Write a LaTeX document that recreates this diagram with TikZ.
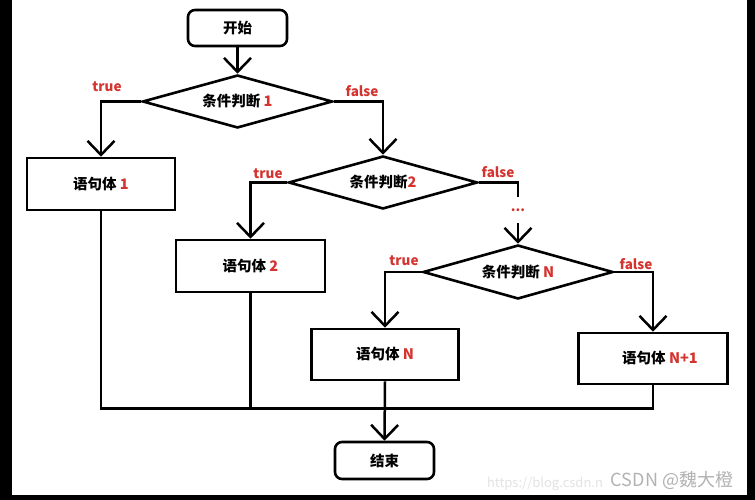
\documentclass[tikz,border=0pt]{standalone}
\usepackage{fontspec}
\setmainfont{Noto Sans CJK SC}
\usetikzlibrary{arrows.meta,shapes.geometric}
\definecolor{lblred}{RGB}{212,52,48}
\tikzset{
  base/.style={font=\fontsize{14.5}{17}\selectfont\bfseries},
  term/.style={base, draw, rounded corners=7pt, minimum width=99pt, minimum height=36pt, inner sep=0pt},
  stmt/.style={base, draw, rectangle, minimum width=148pt, minimum height=52pt, inner sep=0pt},
  cond/.style={base, draw, diamond, aspect=3.6, inner sep=0pt, minimum width=190pt, minimum height=53pt},
  lbl/.style={text=lblred, font=\fontsize{13.5}{15}\selectfont\bfseries, inner sep=0pt},
  arr/.style={-{Straight Barb[length=14pt,width=27pt]}},
  conn/.style={line width=2.5pt}
}
\newcommand{\rd}[1]{\textcolor{lblred}{#1}}
\begin{document}
\begin{tikzpicture}[x=1pt,y=-1pt,line width=2.6pt]
\fill[white] (0,0) rectangle (755,500);
\useasboundingbox (0,0) rectangle (755,500);
\fill[black] (0,0) rectangle (12,500);
\fill[black] (747,0) rectangle (755,500);
\fill[black] (0,495) rectangle (755,500);

\node[term] (start) at (237.5,28) {开始};
\node[cond] (d1) at (237.5,101.5) {条件判断 \rd{1}};
\node[stmt] (b1) at (101,184) {语句体 \rd{1}};
\node[cond, minimum width=189pt] (d2) at (383,182.5) {条件判断\rd{2}};
\node[stmt, minimum width=149pt] (b2) at (250.5,266) {语句体 \rd{2}};
\node[lbl, minimum height=24pt, text depth=0pt] (dots) at (518,210) {...};
\node[cond, minimum height=54pt] (dN) at (518,272) {条件判断 \rd{N}};
\node[stmt, minimum width=147pt, minimum height=51pt] (bN) at (385,354.5) {语句体 \rd{N}};
\node[stmt, minimum width=149pt, minimum height=51pt] (bN1) at (653,358.5) {\hspace{14pt}语句体 \rd{N+1}};
\node[term, minimum height=37pt] (end) at (384.5,460.5) {结束};

\node[lbl] (t1) at (107,87) {true};
\node[lbl] (f1) at (362,91) {false};
\node[lbl] (t2) at (268,174) {true};
\node[lbl] (f2) at (498,172) {false};
\node[lbl] (t3) at (404,261) {true};
\node[lbl] (f3) at (636,264) {false};

\coordinate (m) at (0,408.5);

\draw[conn,arr] (start) -- (d1.north);
\draw[conn,arr] (d1.west) -| (b1.north);
\draw[conn,arr] (d1.east) -| (d2.north);
\draw[conn,arr] (d2.west) -| (b2.north);
\draw[conn] (d2.east) -| (dots.north);
\draw[conn,arr] (dots.south) -- (dN.north);
\draw[conn,arr] (dN.west) -| (bN.north);
\draw[conn,arr] (dN.east) -| (bN1.north);
\draw[conn] (b1.south) -- (b1.south |- m) -- (bN1.south |- m) -- (bN1.south);
\draw[conn] (b2.south) -- (b2.south |- m);
\draw[conn,arr] (bN.south) -- (end.north);

\node[text=gray!22, font=\fontsize{13}{15}\selectfont, inner sep=0pt] (url) at (545,484) {https://blog.csdn.n};
\node[text=gray!60, font=\fontsize{18}{20}\selectfont, inner sep=0pt] (wm) at (672,480) {CSDN @魏大橙};
\end{tikzpicture}
\end{document}
